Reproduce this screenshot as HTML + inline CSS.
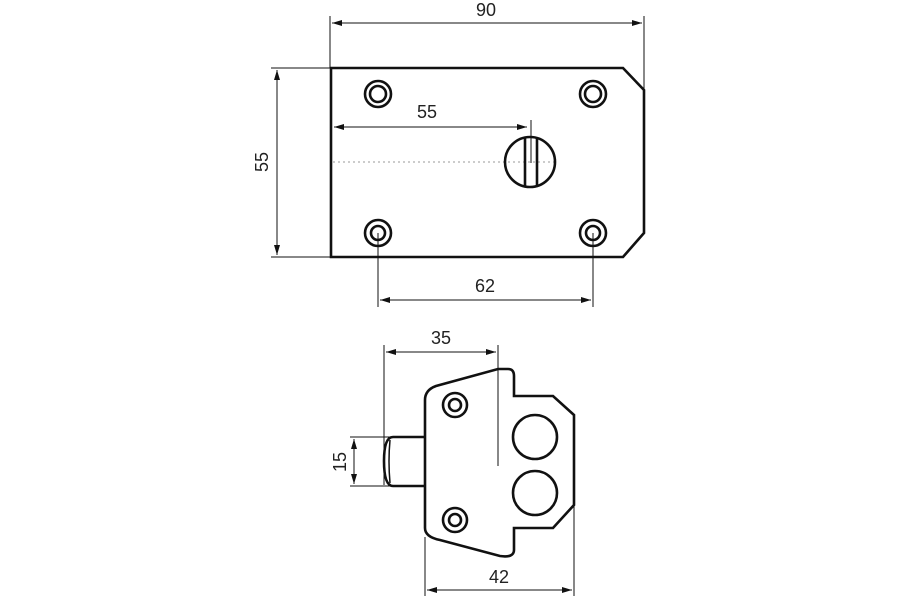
<!DOCTYPE html>
<html><head><style>body{margin:0;background:#fff}svg{display:block}text{font-family:"Liberation Sans",sans-serif;font-size:18px;fill:#222}</style></head><body>
<svg width="900" height="600" viewBox="0 0 900 600">
<defs><marker id="a" viewBox="0 0 10 6" refX="10" refY="3" markerWidth="10" markerHeight="6" orient="auto-start-reverse" markerUnits="userSpaceOnUse"><path d="M0,0L10,3L0,6z" fill="#111"/></marker></defs>
<g stroke="#111" stroke-width="1" fill="none">
<line x1="330" y1="16" x2="330" y2="68"/><line x1="644" y1="16" x2="644" y2="90"/>
<line x1="332" y1="23" x2="642" y2="23" marker-start="url(#a)" marker-end="url(#a)"/>
<line x1="271" y1="68" x2="330" y2="68"/><line x1="271" y1="257" x2="330" y2="257"/>
<line x1="277" y1="70" x2="277" y2="255" marker-start="url(#a)" marker-end="url(#a)"/>
<line x1="334" y1="127" x2="527" y2="127" marker-start="url(#a)" marker-end="url(#a)"/>
<line x1="531" y1="120" x2="531" y2="163"/>
<line x1="333" y1="162" x2="555" y2="162" stroke-dasharray="2,3" stroke="#999"/>
<line x1="378" y1="233" x2="378" y2="307"/><line x1="593" y1="233" x2="593" y2="307"/>
<line x1="380" y1="300" x2="591" y2="300" marker-start="url(#a)" marker-end="url(#a)"/>
<line x1="384" y1="345" x2="384" y2="485"/><line x1="498" y1="345" x2="498" y2="466"/>
<line x1="386" y1="352" x2="496" y2="352" marker-start="url(#a)" marker-end="url(#a)"/>
<line x1="350" y1="437" x2="393" y2="437"/><line x1="350" y1="486" x2="393" y2="486"/>
<line x1="354" y1="439" x2="354" y2="484" marker-start="url(#a)" marker-end="url(#a)"/>
<line x1="425" y1="537" x2="425" y2="596"/><line x1="574" y1="505" x2="574" y2="596"/>
<line x1="427" y1="590" x2="572" y2="590" marker-start="url(#a)" marker-end="url(#a)"/>
</g>
<g stroke="#111" stroke-width="2.6" fill="none">
<path d="M331,68H623L644,90V233L623,257H331Z"/>
<circle cx="378" cy="94" r="13"/><circle cx="378" cy="94" r="8"/>
<circle cx="593" cy="94" r="13"/><circle cx="593" cy="94" r="8"/>
<circle cx="378" cy="233" r="13"/><circle cx="378" cy="233" r="7"/>
<circle cx="593" cy="233" r="13"/><circle cx="593" cy="233" r="7"/>
<circle cx="530" cy="162" r="25"/>
<line x1="525" y1="138" x2="525" y2="186"/><line x1="537" y1="138" x2="537" y2="186"/>
<path d="M425,400Q425,390 436,386L498,369H508Q514,369 514,376V396H553L574,415V505L553,528H514V550Q514,558 500,556L440,540Q425,537 425,528Z"/>
<path d="M425,437H393Q384,437 384,461Q384,486 393,486H425"/>
<path d="M390,440Q388,461 390,483" stroke-width="1.5"/>
<circle cx="455" cy="405" r="12"/><circle cx="455" cy="405" r="6"/>
<circle cx="455" cy="520" r="12"/><circle cx="455" cy="520" r="6"/>
<circle cx="535" cy="437" r="22"/><circle cx="535" cy="493" r="22"/>
</g>
<text x="486" y="16" text-anchor="middle">90</text>
<text x="427" y="118" text-anchor="middle">55</text>
<text x="485" y="292" text-anchor="middle">62</text>
<text x="441" y="344" text-anchor="middle">35</text>
<text x="499" y="583" text-anchor="middle">42</text>
<text transform="translate(268,162) rotate(-90)" text-anchor="middle">55</text>
<text transform="translate(346,462) rotate(-90)" text-anchor="middle">15</text>
</svg>
</body></html>
